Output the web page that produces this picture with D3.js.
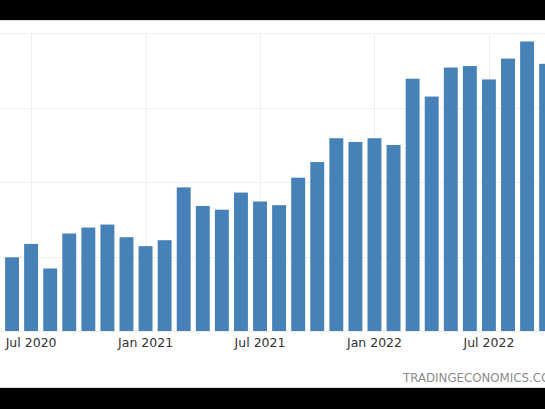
<!DOCTYPE html>
<html>
<head>
<meta charset="utf-8">
<script src="https://d3js.org/d3.v7.min.js"></script>
<style>
  body { margin: 0; background: #000; }
  svg { display: block; }
  .tick text { font-family: "DejaVu Sans", sans-serif; }
</style>
</head>
<body>
<svg id="chart" width="545" height="409"></svg>
<script>
// monthly values, Jun 2020 .. Oct 2022 (axis labels are cropped out of the picture)
var months = ["2020-06","2020-07","2020-08","2020-09","2020-10","2020-11","2020-12",
              "2021-01","2021-02","2021-03","2021-04","2021-05","2021-06","2021-07",
              "2021-08","2021-09","2021-10","2021-11","2021-12","2022-01","2022-02",
              "2022-03","2022-04","2022-05","2022-06","2022-07","2022-08","2022-09","2022-10"];
var values = [0.99, 1.17, 0.84, 1.31, 1.39, 1.43, 1.26,
              1.14, 1.22, 1.93, 1.68, 1.63, 1.86, 1.74,
              1.69, 2.06, 2.27, 2.59, 2.54, 2.59, 2.50,
              3.39, 3.15, 3.54, 3.56, 3.38, 3.66, 3.89, 3.59];
var tickMonths = ["2020-07","2021-01","2021-07","2022-01","2022-07"];
var gridValues = [0, 1, 2, 3, 4];

var svg = d3.select("#chart");
var W = 545, H = 409;

// white panel between the black bands
svg.append("rect").attr("x", 0).attr("y", 20).attr("width", W).attr("height", 368).attr("fill", "#fff");
svg.append("line").attr("x1", 0).attr("x2", W).attr("y1", 20.5).attr("y2", 20.5).attr("stroke", "#ddd");
svg.append("line").attr("x1", 0).attr("x2", W).attr("y1", 387.5).attr("y2", 387.5).attr("stroke", "#ddd");

var x = d3.scaleBand().domain(months).range([2.5, 555.7]).paddingInner(0.27).paddingOuter(0.135);
var y = d3.scaleLinear().domain([0, 4]).range([331, 33.3]);

// horizontal grid
svg.append("g").selectAll("line").data(gridValues).enter().append("line")
  .attr("x1", 0).attr("x2", W)
  .attr("y1", function(d) { return Math.round(y(d)) + 0.5; })
  .attr("y2", function(d) { return Math.round(y(d)) + 0.5; })
  .attr("stroke", "#efefef");

// vertical grid at labelled months
svg.append("g").selectAll("line").data(tickMonths).enter().append("line")
  .attr("x1", function(d) { return Math.round(x(d) + x.bandwidth() / 2) + 0.5; })
  .attr("x2", function(d) { return Math.round(x(d) + x.bandwidth() / 2) + 0.5; })
  .attr("y1", y(4)).attr("y2", y(0))
  .attr("stroke", "#efefef");

// bars
svg.append("g").selectAll("rect").data(months).enter().append("rect")
  .attr("x", function(d) { return x(d); })
  .attr("width", x.bandwidth())
  .attr("y", function(d, i) { return y(values[i]); })
  .attr("height", function(d, i) { return y(0) - y(values[i]); })
  .attr("fill", "#4681b8");

// x axis
var parse = d3.timeParse("%Y-%m");
var fmt = d3.timeFormat("%b %Y");
var xAxis = svg.append("g")
  .attr("transform", "translate(0," + y(0) + ")")
  .call(d3.axisBottom(x).tickValues(tickMonths).tickSize(0).tickPadding(7)
        .tickFormat(function(d) { return fmt(parse(d)); }));
xAxis.select(".domain").remove();
xAxis.selectAll("text").attr("fill", "#333").attr("font-size", "12.5px");

// watermark
svg.append("text").attr("x", 403).attr("y", 382)
  .attr("font-family", "DejaVu Sans, sans-serif").attr("font-size", "11.8px")
  .attr("fill", "#8c8c8c")
  .text("TRADINGECONOMICS.COM");
</script>
</body>
</html>
